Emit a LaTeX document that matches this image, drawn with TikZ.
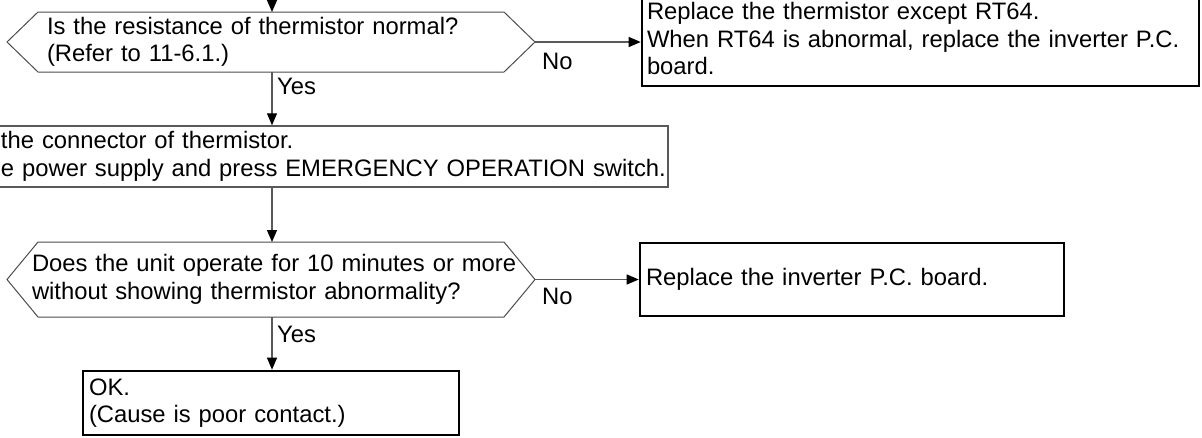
\documentclass[tikz,border=0pt]{standalone}
\usepackage{fontspec}
\setmainfont{Liberation Sans}
\usetikzlibrary{arrows.meta,calc}
\begin{document}
\begin{tikzpicture}[x=1pt,y=1pt,
  every node/.style={font=\fontsize{23.8}{27.4}\selectfont, text=black},
  qnode/.style={minimum width=528pt, inner ysep=0pt, outer sep=0pt, align=left},
  hexline/.style={draw=black!70, line width=1pt},
  result/.style={draw=black, line width=2.6pt, align=left, inner ysep=0pt},
  action/.style={draw=black!65, line width=1.4pt, align=left, inner ysep=0pt},
  conn/.style={draw=black!65, line width=1.2pt, -{Triangle[length=12pt,width=10pt,color=black]}},
  lab/.style={inner sep=0pt, anchor=north west}
]
\useasboundingbox (0,0) rectangle (1202,-437);
\clip (0,0) rectangle (1202,-437);

% decisions
\node[qnode, minimum height=60pt, inner xsep=40pt, text width=448pt] (q1) at (271,-42)
  {\mbox{Is the resistance of thermistor normal?}\\\mbox{(Refer to 11-6.1.)}};
\draw[hexline] ($(q1.north west)+(31,0)$) -- ($(q1.north east)+(-31,0)$) -- (q1.east)
  -- ($(q1.south east)+(-31,0)$) -- ($(q1.south west)+(31,0)$) -- (q1.west) -- cycle;

\node[qnode, minimum height=75pt, inner xsep=25pt, text width=478pt] (q2) at (271,-279.5)
  {\mbox{Does the unit operate for 10 minutes or more}\\\mbox{without showing thermistor abnormality?}};
\draw[hexline] ($(q2.north west)+(31,0)$) -- ($(q2.north east)+(-31,0)$) -- (q2.east)
  -- ($(q2.south east)+(-31,0)$) -- ($(q2.south west)+(31,0)$) -- (q2.west) -- cycle;

% boxes
\node[result, minimum height=95pt, inner xsep=5pt, text width=547pt] (b1) at (920.5,-38.5)
  {\mbox{Replace the thermistor except RT64.}\\\mbox{When RT64 is abnormal, replace the inverter P.C.}\\\mbox{board.}};
\node[action, minimum height=61pt, inner xsep=21pt, text width=646pt] (b2) at (324,-156.5)
  {\mbox{the connector of thermistor.}\\\mbox{e power supply and press EMERGENCY OPERATION switch.}};
\node[result, minimum height=73pt, inner xsep=6pt, text width=412pt] (b3) at (852,-279.5)
  {\mbox{Replace the inverter P.C. board.}};
\node[result, minimum height=64pt, inner xsep=6pt, text width=364pt] (b4) at (271,-403)
  {\mbox{OK.}\\\mbox{(Cause is poor contact.)}};

% connectors
\coordinate (top) at (272,2);
\draw[conn] (top) -- (top |- q1.north);
\draw[conn] (q1.east) -- (b1.west |- q1.east);
\draw[conn] (q1.south -| top) -- (top |- b2.north);
\draw[conn] (top |- b2.south) -- (top |- q2.north);
\draw[conn] (q2.east) -- (b3.west |- q2.east);
\draw[conn] (q2.south -| top) -- (top |- b4.north);

% labels
\node[lab] (no1) at ($(q1.east)+(7,-11)$) {No};
\node[lab] (yes1) at ($(q1.south -| top)+(5,-6)$) {Yes};
\node[lab] (no2) at ($(q2.east)+(7,-8)$) {No};
\node[lab] (yes2) at ($(q2.south -| top)+(5,-9)$) {Yes};
\end{tikzpicture}
\end{document}
